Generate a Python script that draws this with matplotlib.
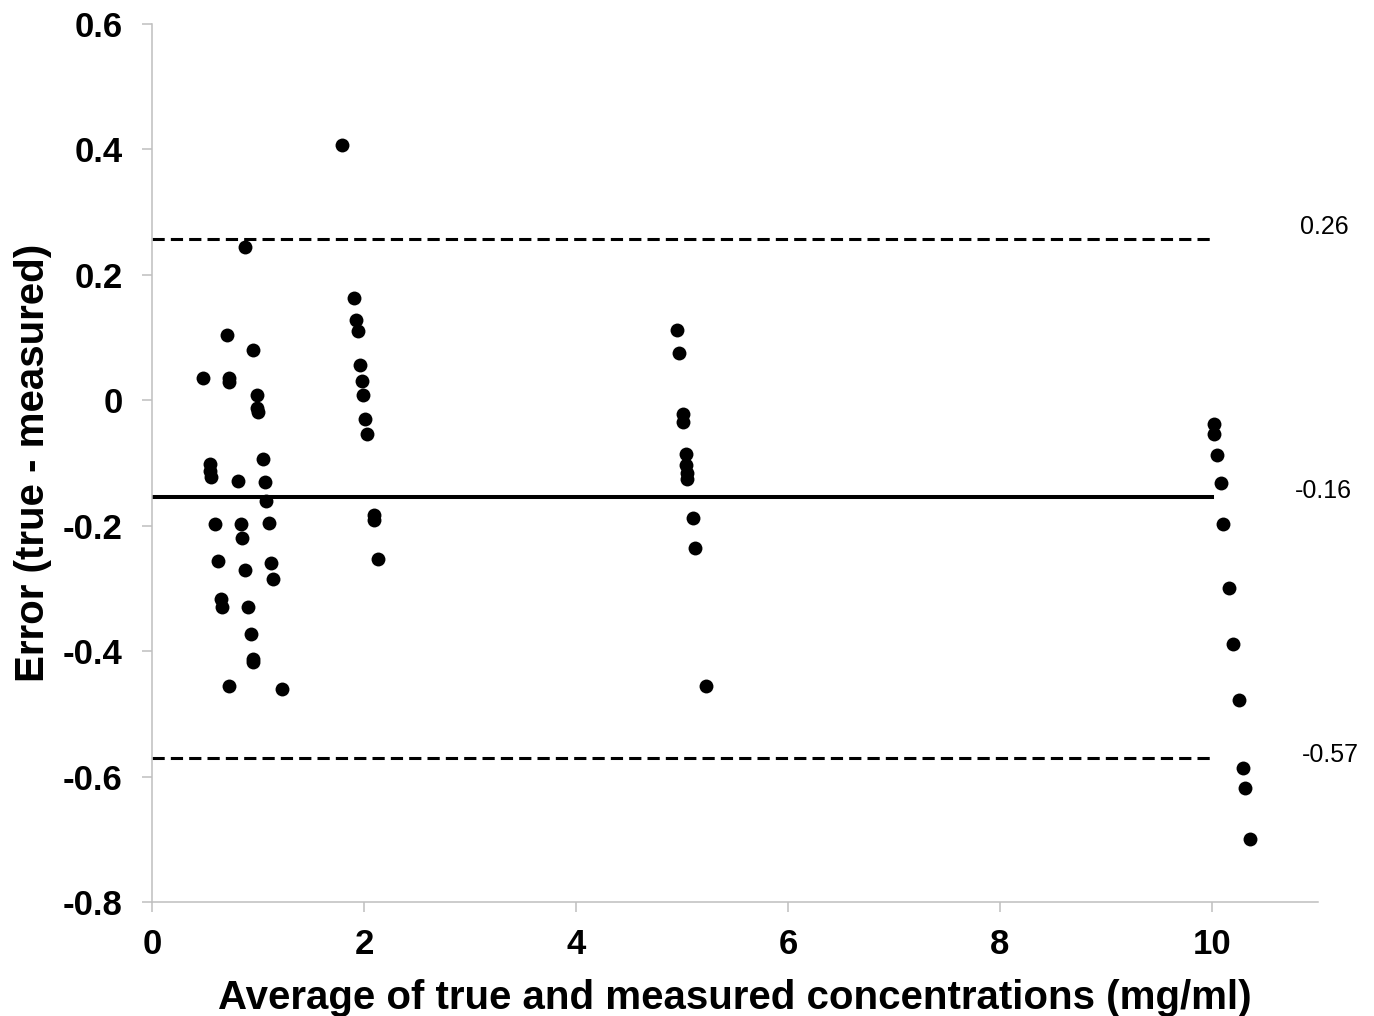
import matplotlib.pyplot as plt

plt.rcParams['font.family'] = ['Liberation Sans', 'DejaVu Sans']

# Bland-Altman style data: average concentration vs error
avg_1 = [0.48, 0.71, 0.73, 0.73, 0.95, 0.99, 0.99, 1.00, 0.55, 0.55, 0.56,
         0.81, 1.05, 1.07, 1.08, 0.59, 0.84, 1.10, 0.85, 0.62, 0.88, 1.12,
         1.14, 0.65, 0.66, 0.91, 0.93, 0.95, 0.95, 0.73, 1.23, 0.88]
err_1 = [0.035, 0.104, 0.035, 0.029, 0.080, 0.008, -0.013, -0.018, -0.102,
         -0.112, -0.123, -0.129, -0.094, -0.131, -0.160, -0.198, -0.198,
         -0.196, -0.220, -0.257, -0.271, -0.260, -0.285, -0.317, -0.329,
         -0.330, -0.373, -0.413, -0.418, -0.455, -0.461, 0.244]

avg_2 = [1.79, 1.91, 1.92, 1.94, 1.96, 1.98, 1.99, 2.01, 2.03, 2.09, 2.09, 2.13]
err_2 = [0.407, 0.163, 0.128, 0.110, 0.056, 0.030, 0.008, -0.030, -0.054,
         -0.183, -0.191, -0.253]

avg_5 = [4.95, 4.97, 5.01, 5.01, 5.04, 5.04, 5.05, 5.05, 5.10, 5.12, 5.23]
err_5 = [0.112, 0.076, -0.022, -0.034, -0.086, -0.104, -0.116, -0.125,
         -0.188, -0.236, -0.456]

avg_10 = [10.02, 10.02, 10.05, 10.08, 10.10, 10.16, 10.20, 10.25, 10.29,
          10.31, 10.36]
err_10 = [-0.038, -0.053, -0.088, -0.132, -0.198, -0.300, -0.389, -0.478,
          -0.587, -0.618, -0.699]

mean_err = -0.155
upper_loa = 0.257
lower_loa = -0.570
loa_labels = ['0.26', '-0.16', '-0.57']

fig = plt.figure(figsize=(13.74, 10.16), dpi=100)
ax = fig.add_axes([0.1106, 0.1122, 0.8487, 0.8642])

xs = avg_1 + avg_2 + avg_5 + avg_10
ys = err_1 + err_2 + err_5 + err_10
ax.scatter(xs, ys, s=100, color='black', zorder=3, linewidths=0)

ax.plot([0, 10], [mean_err, mean_err], color='black', lw=2.9)
ax.plot([0, 10], [upper_loa, upper_loa], color='black', lw=2.2, dashes=(4, 2))
ax.plot([0, 10], [lower_loa, lower_loa], color='black', lw=2.2, dashes=(4, 2))

ax.text(11.06, upper_loa + 0.019, loa_labels[0], ha='center', va='center', fontsize=18, clip_on=False)
ax.text(11.05, mean_err + 0.011, loa_labels[1], ha='center', va='center', fontsize=18, clip_on=False)
ax.text(11.12, lower_loa + 0.004, loa_labels[2], ha='center', va='center', fontsize=18, clip_on=False)

ax.set_xlim(0, 11)
ax.set_ylim(-0.8, 0.6)
ax.set_xticks([0, 2, 4, 6, 8, 10])
ax.set_yticks([-0.8, -0.6, -0.4, -0.2, 0, 0.2, 0.4, 0.6])
ax.set_yticklabels(['-0.8', '-0.6', '-0.4', '-0.2', '0', '0.2', '0.4', '0.6'])

for side in ['top', 'right']:
    ax.spines[side].set_visible(False)
for side in ['left', 'bottom']:
    ax.spines[side].set_color('#bfbfbf')
    ax.spines[side].set_linewidth(1.1)

ax.tick_params(axis='both', colors='#bfbfbf', labelcolor='black', length=7,
               width=1.1, labelsize=25, direction='out')
ax.tick_params(axis='x', pad=12)
ax.tick_params(axis='y', pad=14)
for lab in ax.get_xticklabels() + ax.get_yticklabels():
    lab.set_fontweight('bold')

ax.set_xlabel('Average of true and measured concentrations (mg/ml)', fontsize=29,
              fontweight='bold', labelpad=13)
ax.set_ylabel('Error (true - measured)', fontsize=29, fontweight='bold', labelpad=8)

fig.savefig('out.png', dpi=100)
